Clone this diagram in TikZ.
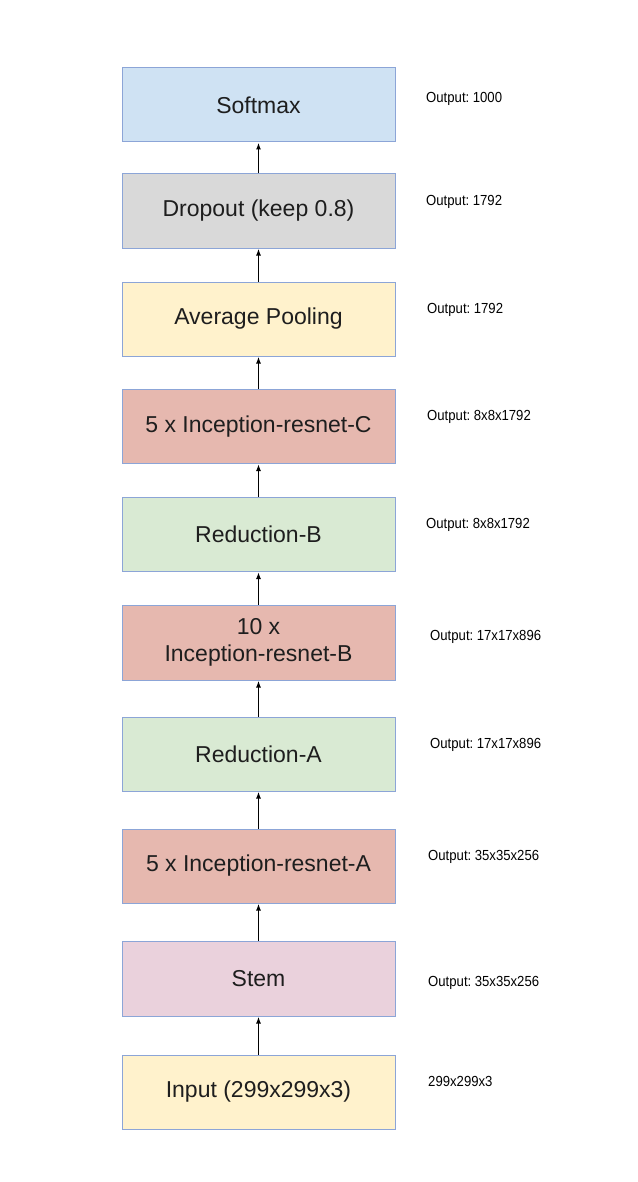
\documentclass[tikz,border=0pt]{standalone}
\usepackage{fontspec}
\setmainfont{Liberation Sans}
\usetikzlibrary{arrows.meta}
\definecolor{bord}{RGB}{140,165,215}
\definecolor{cblue}{RGB}{207,226,243}
\definecolor{cgray}{RGB}{217,217,217}
\definecolor{cyellow}{RGB}{255,242,204}
\definecolor{cred}{RGB}{230,184,175}
\definecolor{cgreen}{RGB}{217,234,211}
\definecolor{cpink}{RGB}{234,209,220}
\definecolor{txt}{RGB}{30,30,30}
\newcommand{\lbltext}[1]{\scalebox{0.9}[1]{\fontsize{14.6}{16}\selectfont\spaceskip=0.18em #1}}
\begin{document}
\begin{tikzpicture}[x=1pt,y=-1pt,
  layer/.style={draw=bord,line width=1pt,minimum width=273pt,minimum height=74pt,
    inner sep=0pt,align=center,text=txt,font=\fontsize{23}{27}\selectfont},
  outlbl/.style={anchor=west,inner sep=0pt,text=black},
  flow/.style={-{Latex[length=7pt,width=5pt]},line width=1.6pt,black}]
\useasboundingbox (0,0) rectangle (637,1182);
\fill[white] (0,0) rectangle (637,1182);
\node[layer,fill=cblue]   (soft) at (258.5,105) {Softmax};
\node[layer,fill=cgray]   (drop) at (258.5,211) {Dropout (keep 0.8)};
\node[layer,fill=cyellow] (avg)  at (258.5,319) {Average Pooling};
\node[layer,fill=cred]    (incc) at (258.5,426.5) {5 x Inception-resnet-C};
\node[layer,fill=cgreen]  (redb) at (258.5,534.5) {Reduction-B};
\node[layer,fill=cred,minimum height=75pt] (incb) at (258.5,642.5) {10 x\\Inception-resnet-B};
\node[layer,fill=cgreen]  (reda) at (258.5,754) {Reduction-A};
\node[layer,fill=cred]    (inca) at (258.5,866) {5 x Inception-resnet-A};
\node[layer,fill=cpink,minimum height=75pt] (stem) at (258.5,978.5) {Stem};
\node[layer,fill=cyellow] (inp)  at (258.5,1092) {Input (299x299x3)};
\draw[flow] (drop.north) -- (soft.south);
\draw[flow] (avg.north) -- (drop.south);
\draw[flow] (incc.north) -- (avg.south);
\draw[flow] (redb.north) -- (incc.south);
\draw[flow] (incb.north) -- (redb.south);
\draw[flow] (reda.north) -- (incb.south);
\draw[flow] (inca.north) -- (reda.south);
\draw[flow] (stem.north) -- (inca.south);
\draw[flow] (inp.north) -- (stem.south);
\node[outlbl] (l1) at (426,99) {\lbltext{Output: 1000}};
\node[outlbl] (l2) at (426,202) {\lbltext{Output: 1792}};
\node[outlbl] (l3) at (427,310) {\lbltext{Output: 1792}};
\node[outlbl] (l4) at (427,417) {\lbltext{Output: 8x8x1792}};
\node[outlbl] (l5) at (426,525) {\lbltext{Output: 8x8x1792}};
\node[outlbl] (l6) at (430,637) {\lbltext{Output: 17x17x896}};
\node[outlbl] (l7) at (430,745) {\lbltext{Output: 17x17x896}};
\node[outlbl] (l8) at (428,857) {\lbltext{Output: 35x35x256}};
\node[outlbl] (l9) at (428,983) {\lbltext{Output: 35x35x256}};
\node[outlbl] (l10) at (428,1081) {\lbltext{299x299x3}};
\end{tikzpicture}
\end{document}
